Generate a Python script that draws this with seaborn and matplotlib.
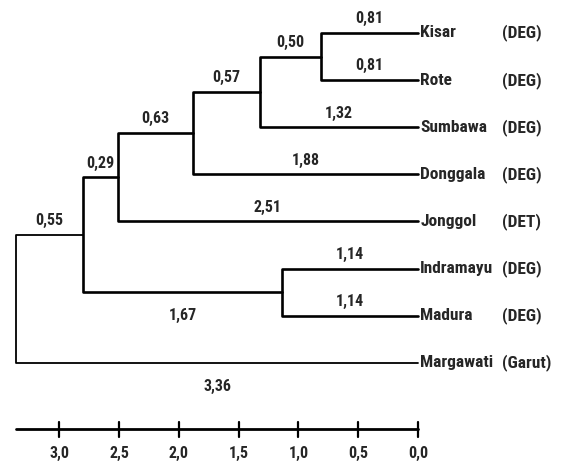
import pandas as pd
import matplotlib.pyplot as plt
import seaborn as sns
from matplotlib import font_manager

# leaves, top to bottom
leaves = ['Kisar', 'Rote', 'Sumbawa', 'Donggala', 'Jonggol', 'Indramayu', 'Madura', 'Margawati']
groups = ['(DEG)', '(DEG)', '(DEG)', '(DEG)', '(DET)', '(DEG)', '(DEG)', '(Garut)']

# merges (cluster ids: 0-7 leaves, 8+ merged nodes in order)
merge_left = [0, 8, 9, 10, 5, 11, 13]
merge_right = [1, 2, 3, 4, 6, 12, 7]
merge_height = [0.81, 1.32, 1.88, 2.51, 1.14, 2.80, 3.36]

# printed branch length for each cluster id (leaves then nodes)
branch_text = ['0,81', '0,81', '1,32', '1,88', '2,51', '1,14', '1,14', '3,36',
               '0,50', '0,57', '0,63', '0,29', '1,67', '0,55']
text_below = ['Margawati', 12]

scale_ticks = [3.0, 2.5, 2.0, 1.5, 1.0, 0.5, 0.0]
scale_labels = ['3,0', '2,5', '2,0', '1,5', '1,0', '0,5', '0,0']

sns.set_theme(style='white')

# look for a narrow face, the original uses a condensed sans
fonts = font_manager.fontManager.ttflist
names = {f.name for f in fonts}
family = None
stretch = 'normal'
for cand in ['Liberation Sans Narrow', 'Roboto Condensed', 'Open Sans Condensed', 'DejaVu Sans Condensed']:
    if cand in names:
        family = cand
        break
if family is None:
    for f in fonts:
        if f.stretch in ('condensed', 'semi-condensed', 'extra-condensed') or \
                (isinstance(f.stretch, int) and f.stretch < 500):
            family = f.name
            stretch = 'condensed'
            break
narrow = family is not None
if not narrow:
    family = 'Liberation Sans'
plt.rcParams['font.family'] = [family, 'DejaVu Sans']
name_size = 12.5 if narrow else 11.5
num_size = 11.5 if narrow else 10.5
weight = 'bold'

fig = plt.figure(figsize=(5.64, 4.66), dpi=100)
ax = fig.add_axes([0, 0, 1, 1])

# positions of every cluster
ypos = {i: float(i) for i in range(len(leaves))}
height = {i: 0.0 for i in range(len(leaves))}
rows = []
for k, (a, b, h) in enumerate(zip(merge_left, merge_right, merge_height)):
    node = len(leaves) + k
    ypos[node] = (ypos[a] + ypos[b]) / 2
    height[node] = h
    pts = [(height[a], ypos[a]), (h, ypos[a]), (h, ypos[b]), (height[b], ypos[b])]
    for j, (px, py) in enumerate(pts):
        rows.append({'seg': k, 'order': j, 'x': px, 'y': py,
                     'root': k == len(merge_height) - 1})
segs = pd.DataFrame(rows)

sns.lineplot(data=segs[~segs['root']], x='x', y='y', units='seg', estimator=None,
             sort=False, color='black', lw=1.9, ax=ax)
sns.lineplot(data=segs[segs['root']], x='x', y='y', units='seg', estimator=None,
             sort=False, color='black', lw=1.3, ax=ax)

# branch length labels at the middle of each branch
parent = {}
for k, (a, b) in enumerate(zip(merge_left, merge_right)):
    parent[a] = len(leaves) + k
    parent[b] = len(leaves) + k
for c, txt in enumerate(branch_text):
    mid = (height[c] + height[parent[c]]) / 2
    key = leaves[c] if c < len(leaves) else c
    dy = 0.5 if key in text_below else -0.3
    ax.text(mid, ypos[c] + dy, txt, ha='center', va='center', fontsize=num_size,
            fontstretch=stretch, fontweight=weight)

# leaf names and groups
for i, (name, grp) in enumerate(zip(leaves, groups)):
    ax.text(-0.02, ypos[i], name, ha='left', va='center', fontsize=name_size,
            fontstretch=stretch, fontweight=weight)
    ax.text(-0.70, ypos[i], grp, ha='left', va='center', fontsize=name_size,
            fontstretch=stretch, fontweight=weight)

# scale bar
bar_y = 8.41
ax.plot([merge_height[-1], 0.0], [bar_y, bar_y], color='black', lw=2)
for t, lab in zip(scale_ticks, scale_labels):
    ax.plot([t, t], [bar_y - 0.16, bar_y + 0.16], color='black', lw=1.6)
    ax.text(t, bar_y + 0.52, lab, ha='center', va='center', fontsize=num_size,
            fontstretch=stretch, fontweight=weight)

ax.set_xlim(3.495, -1.221)
ax.set_ylim(9.19, -0.70)
ax.axis('off')
if ax.get_legend():
    ax.get_legend().remove()

fig.savefig('out.png', dpi=100)
